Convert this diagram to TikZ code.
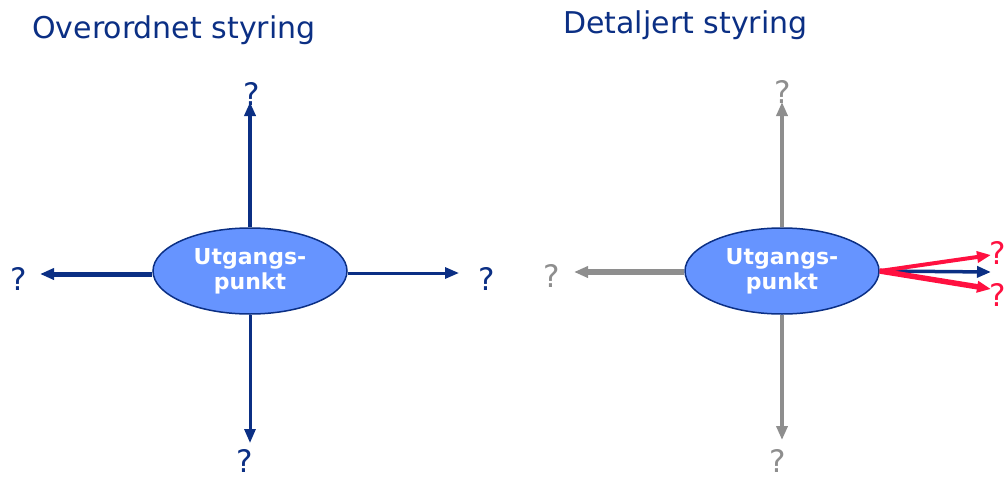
\documentclass[tikz,border=0pt]{standalone}
\usepackage{fontspec}
\setmainfont{DejaVu Sans}
\usetikzlibrary{arrows.meta,shapes.geometric}
\definecolor{navy}{HTML}{0B2F84}
\definecolor{ellfill}{HTML}{6694FF}
\definecolor{grayarr}{HTML}{8E8E8E}
\definecolor{redarr}{HTML}{FF1040}
\begin{document}
\begin{tikzpicture}[x=1pt,y=-1pt,
  ell/.style={ellipse,draw=navy,line width=1.5pt,fill=ellfill,minimum width=194pt,minimum height=86pt,inner sep=0pt,
    font=\bfseries\fontsize{22}{25}\selectfont,text=white,align=center},
  qm/.style={font=\fontsize{31}{33}\selectfont,inner sep=0pt},
  title/.style={font=\fontsize{30}{33}\selectfont,text=navy,inner sep=0pt,anchor=west},
  arr/.style={-{Triangle[length=14pt,width=11pt]},line width=#1},
  arr/.default=3pt
]
\useasboundingbox (0,0) rectangle (1008,479);
\node[title] (t1) at (32,30) {Overordnet styring};
\node[title] (t2) at (563,25) {Detaljert styring};

% left diagram
\node[ell] (e1) at (250,271) {Utgangs-\\punkt};
\node[qm,text=navy] (q1u) at (252,94) {?};
\node[qm,text=navy] (q1d) at (245,461) {?};
\node[qm,text=navy] (q1l) at (19,279) {?};
\node[qm,text=navy] (q1r) at (487,279) {?};
\coordinate (c1u) at (250,102);
\coordinate (c1d) at (250,443);
\coordinate (c1l) at (40,274);
\coordinate (c1r) at (459,273);
\draw[navy,arr=3.5pt] (e1.north) -- (c1u);
\draw[navy,arr=3pt] (e1.south) -- (c1d);
\draw[navy,arr=5pt] (e1.west |- c1l) -- (c1l);
\draw[navy,arr=3pt] (e1.east |- c1r) -- (c1r);

% right diagram
\node[ell] (e2) at (782,271) {Utgangs-\\punkt};
\node[qm,text=grayarr] (q2u) at (783,92) {?};
\node[qm,text=grayarr] (q2d) at (778,461) {?};
\node[qm,text=grayarr] (q2l) at (552,276) {?};
\node[qm,text=redarr] (q2r1) at (998,253) {?};
\node[qm,text=redarr] (q2r2) at (998,295) {?};
\coordinate (c2u) at (782,102);
\coordinate (c2d) at (782,440);
\coordinate (c2l) at (574,272);
\coordinate (c2r) at (991,272);
\coordinate (c2r1) at (991,255);
\coordinate (c2r2) at (991,289);
\draw[grayarr,arr=3.5pt] (e2.north) -- (c2u);
\draw[grayarr,arr=3.5pt] (e2.south) -- (c2d);
\draw[grayarr,arr=6pt] (e2.west |- c2l) -- (c2l);
\draw[navy,arr=3.5pt] (e2.east) -- (c2r);
\draw[redarr,arr=4pt] (e2.east) -- (c2r1);
\draw[redarr,arr=5.5pt] (e2.east) -- (c2r2);
\end{tikzpicture}
\end{document}
